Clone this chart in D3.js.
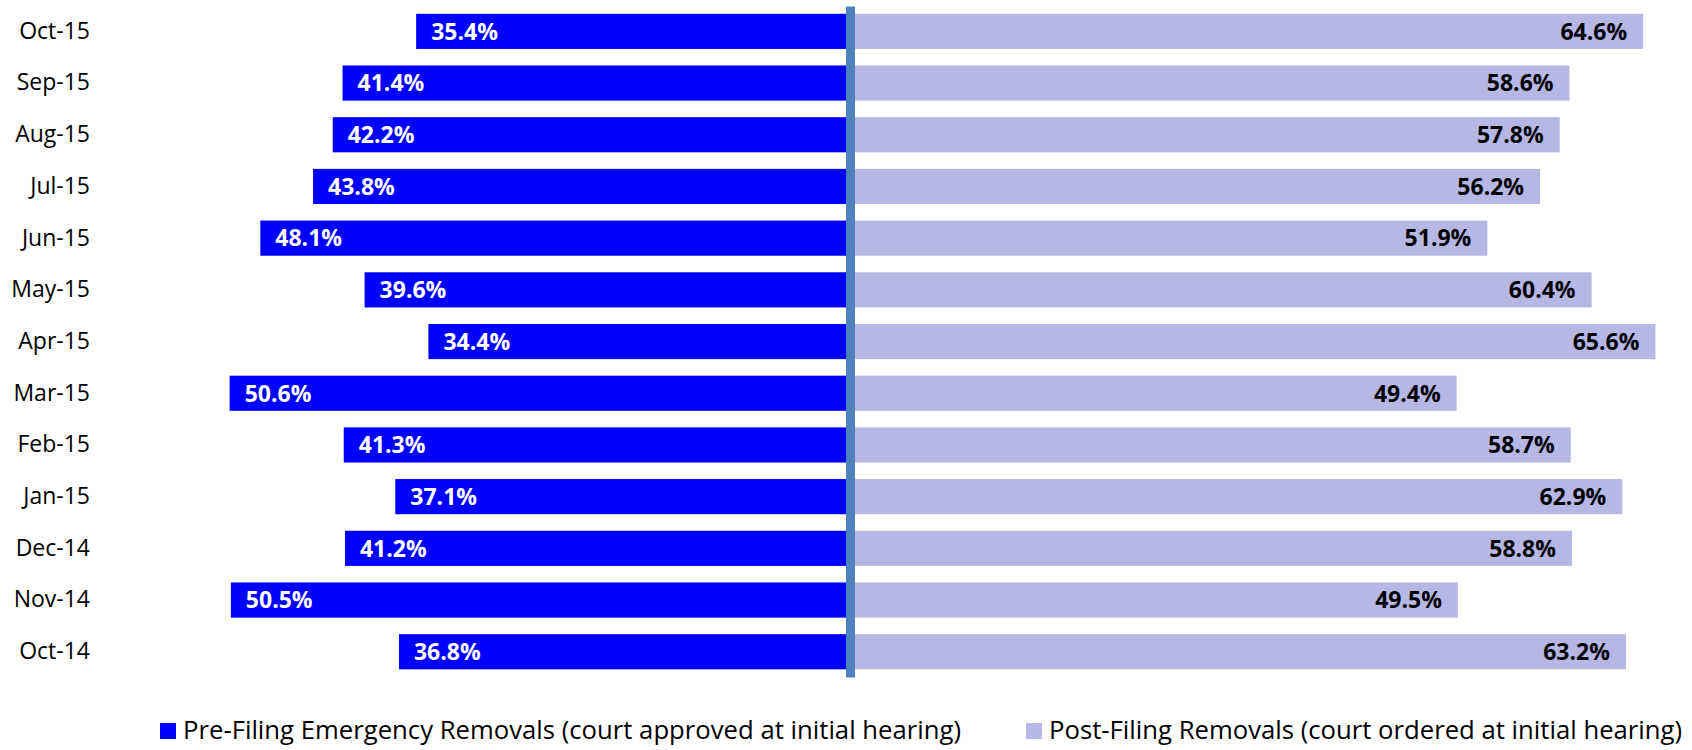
<!DOCTYPE html>
<html>
<head>
<meta charset="utf-8">
<script src="https://cdn.jsdelivr.net/npm/d3@7"></script>
<style>
  body { margin: 0; background: #fff; }
  svg { display: block; }
</style>
</head>
<body>
<div id="chart"></div>
<script>
(function () {

  // months, top row first
  var months = ["Oct-15", "Sep-15", "Aug-15", "Jul-15", "Jun-15", "May-15", "Apr-15",
                "Mar-15", "Feb-15", "Jan-15", "Dec-14", "Nov-14", "Oct-14"];
  var preFiling = [35.4, 41.4, 42.2, 43.8, 48.1, 39.6, 34.4, 50.6, 41.3, 37.1, 41.2, 50.5, 36.8];
  var postFiling = [64.6, 58.6, 57.8, 56.2, 51.9, 60.4, 65.6, 49.4, 58.7, 62.9, 58.8, 49.5, 63.2];
  var seriesNames = ["Pre-Filing Emergency Removals (court approved at initial hearing)",
                     "Post-Filing Removals (court ordered at initial hearing)"];

  var w = 1692;
  var h = 750;
  var font = "'Open Sans', Lato, sans-serif";
  var blue = "#0000ff";
  var lilac = "#b7b7e6";

  var data = months.map(function (m, i) {
    return { month: m, pre: preFiling[i], post: postFiling[i] };
  });

  // 0% sits at x=850.5, about 12.27px per point
  var k = 12.27;
  var zero = 850.5;
  var xScale = d3.scaleLinear()
    .domain([-60, 68])
    .range([zero - 60 * k, zero + 68 * k]);

  var yScale = d3.scaleBand()
    .domain(months)
    .range([5.5, 677.6])
    .paddingInner(0.32)
    .paddingOuter(0.16);

  var svg = d3.select("#chart")
    .append("svg")
    .attr("width", w)
    .attr("height", h);

  // pre-filing bars going left
  svg.selectAll(".pre")
    .data(data)
    .enter()
    .append("rect")
    .attr("class", "pre")
    .attr("x", function (d) { return xScale(-d.pre); })
    .attr("y", function (d) { return yScale(d.month); })
    .attr("width", function (d) { return xScale(0) - xScale(-d.pre); })
    .attr("height", yScale.bandwidth())
    .style("fill", blue);

  // post-filing bars going right
  svg.selectAll(".post")
    .data(data)
    .enter()
    .append("rect")
    .attr("class", "post")
    .attr("x", xScale(0))
    .attr("y", function (d) { return yScale(d.month); })
    .attr("width", function (d) { return xScale(d.post) - xScale(0); })
    .attr("height", yScale.bandwidth())
    .style("fill", lilac);

  // value labels
  svg.selectAll(".preLabel")
    .data(data)
    .enter()
    .append("text")
    .attr("class", "preLabel")
    .attr("x", function (d) { return xScale(-d.pre) + 15; })
    .attr("y", function (d) { return yScale(d.month) + yScale.bandwidth() / 2; })
    .attr("dy", "0.36em")
    .text(function (d) { return d.pre.toFixed(1) + "%"; })
    .style("font-family", font)
    .style("font-weight", "bold")
    .style("font-size", "23px")
    .style("fill", "#fff");

  svg.selectAll(".postLabel")
    .data(data)
    .enter()
    .append("text")
    .attr("class", "postLabel")
    .attr("x", function (d) { return xScale(d.post) - 16; })
    .attr("y", function (d) { return yScale(d.month) + yScale.bandwidth() / 2; })
    .attr("dy", "0.36em")
    .attr("text-anchor", "end")
    .text(function (d) { return d.post.toFixed(1) + "%"; })
    .style("font-family", font)
    .style("font-weight", "bold")
    .style("font-size", "23px")
    .style("fill", "#000");

  // vertical axis at 0, labels on the far left
  var yAxis = d3.axisLeft(yScale).tickSize(0).tickPadding(0);
  var axisG = svg.append("g")
    .attr("transform", "translate(90,0)")
    .call(yAxis);
  axisG.select(".domain").remove();
  axisG.selectAll("text")
    .style("font-family", font)
    .style("font-size", "23px")
    .style("fill", "#000");

  svg.append("line")
    .attr("x1", xScale(0))
    .attr("x2", xScale(0))
    .attr("y1", yScale.range()[0] + 1)
    .attr("y2", yScale.range()[1])
    .style("stroke", "#4f81bd")
    .style("stroke-width", 9);

  // legend
  var legendX = [160, 1026];
  var legendColors = [blue, lilac];
  var legend = svg.selectAll(".legend")
    .data(seriesNames)
    .enter()
    .append("g")
    .attr("class", "legend")
    .attr("transform", function (d, i) { return "translate(" + legendX[i] + ",723)"; });

  legend.append("rect")
    .attr("width", 16)
    .attr("height", 16)
    .style("fill", function (d, i) { return legendColors[i]; });

  legend.append("text")
    .attr("x", 23)
    .attr("y", 16)
    .text(function (d) { return d; })
    .style("font-family", font)
    .style("font-size", "25.7px")
    .style("fill", "#000");

})();
</script>
</body>
</html>
